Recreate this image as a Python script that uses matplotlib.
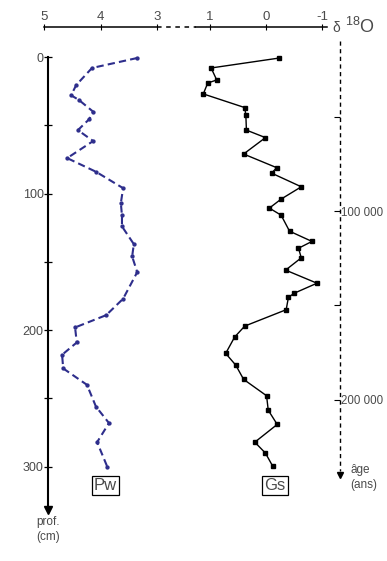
import numpy as np
import matplotlib.pyplot as plt
import matplotlib.transforms as mtransforms

plt.rcParams['font.family'] = ['Liberation Sans', 'DejaVu Sans']
plt.rcParams['mathtext.default'] = 'regular'

# Pw : delta 18O (dashed blue), depth in cm
pw_depth = [0.7, 8, 20.5, 28, 31.5, 40, 45.5, 53.5, 61.5, 74, 84, 96, 107, 116, 124,
            137, 146, 157.5, 177, 189, 198, 209, 218, 228, 240, 256, 268, 282, 300]
pw_d18o = [3.35, 4.15, 4.43, 4.52, 4.38, 4.13, 4.2, 4.4, 4.13, 4.59, 4.08, 3.6, 3.64, 3.62, 3.62,
           3.41, 3.44, 3.35, 3.6, 3.9, 4.45, 4.42, 4.68, 4.66, 4.24, 4.08, 3.85, 4.06, 3.88]

# Gs : delta 18O (solid black)
gs_depth = [0.7, 8, 16.8, 19, 27, 37, 42.5, 53.5, 59, 71, 81, 85, 95, 104, 110.6, 115.8,
            127.5, 135, 140, 147, 156, 165.6, 173, 176, 185, 197, 205, 217, 225.6, 236,
            248, 258.6, 269, 282, 290, 299.6]
gs_d18o = [-0.24, 0.98, 0.88, 1.04, 1.12, 0.38, 0.36, 0.35, 0.01, 0.40, -0.19, -0.10, -0.63,
           -0.27, -0.06, -0.27, -0.42, -0.82, -0.58, -0.63, -0.35, -0.91, -0.50, -0.40, -0.36,
           0.38, 0.56, 0.72, 0.54, 0.40, -0.01, -0.04, -0.20, 0.20, 0.01, -0.12]

depth_ticks = [0, 100, 200, 300]
depth_minor = [50, 150, 250]
age_ticks = [50000, 100000, 150000, 200000]
age_labels = ['', '100 000', '', '200 000']
pw_ticks = [5, 4, 3]
gs_ticks = [1, 0, -1]

W, H = 387, 561
grey = '#4a4a4a'
blue = '#2e2e8c'


def rect(x0, x1, y0, y1):
    return [x0 / W, 1 - y1 / H, (x1 - x0) / W, (y1 - y0) / H]


fig = plt.figure(figsize=(W / 100, H / 100), dpi=100)
ax_pw = fig.add_axes(rect(44, 157, 27, 561))
ax_gs = fig.add_axes(rect(196, 326.5, 27, 561))

for ax in (ax_pw, ax_gs):
    ax.set_ylim(369, -22)
    ax.patch.set_alpha(0)
    for s in ('bottom', 'right', 'left'):
        ax.spines[s].set_visible(False)
    ax.spines['top'].set_linewidth(1.1)
    ax.xaxis.set_ticks_position('top')
    ax.tick_params(axis='x', direction='inout', length=5, width=0.8,
                   labelsize=9.5, labelcolor=grey, pad=0.5)

ax_pw.set_xlim(5, 3)
ax_gs.set_xlim(1.25, -1.08)
ax_pw.set_xticks(pw_ticks)
ax_gs.set_xticks(gs_ticks)
ax_gs.set_xticklabels(['1', '0', '-1'])
ax_gs.set_yticks([])

# depth axis
ax_pw.spines['left'].set_visible(True)
ax_pw.spines['left'].set_position(('data', 4.93))
ax_pw.spines['left'].set_bounds(0, 328)
ax_pw.spines['left'].set_linewidth(1.5)
ax_pw.set_yticks(depth_ticks)
ax_pw.set_yticks(depth_minor, minor=True)
ax_pw.tick_params(axis='y', which='both', direction='inout', length=6, width=0.9,
                  labelsize=9, labelcolor=grey, pad=0)
ax_pw.plot([4.93], [332], marker='v', color='black', ms=5.5, clip_on=False)
ax_pw.text(4.93, 346, 'prof.\n(cm)', ha='center', va='center', fontsize=8.5,
           color=grey, linespacing=1.25)

# broken x-axis (dashed gap)
fig.add_artist(plt.Line2D([157 / W, 196 / W], [1 - 27 / H, 1 - 27 / H],
                          color='black', lw=1.1, ls=(0, (3, 3))))
fig.text(332 / W, 1 - 28 / H, 'δ', fontsize=10, va='center', ha='left', color=grey)
fig.text(345 / W, 1 - 27 / H, '$^{18}$O', fontsize=13, va='center', ha='left',
         color=grey)

# series
ax_pw.plot(pw_d18o, pw_depth, color=blue, ls=(0, (3.5, 2)), lw=1.5,
           marker='o', ms=2.1, mfc=blue, mec=blue, clip_on=False)
ax_gs.plot(gs_d18o, gs_depth, color='black', lw=1.0,
           marker='s', ms=2.6, clip_on=False)

box = dict(boxstyle='square,pad=0.12', fc='white', ec='black', lw=0.9)
ax_pw.text(3.91, 313.5, 'Pw', ha='center', va='center', fontsize=12, color=grey,
           bbox=box)
ax_gs.text(-0.16, 314, 'Gs', ha='center', va='center', fontsize=12, color=grey,
           bbox=box)

# age axis
xa = 1.103
trans = mtransforms.blended_transform_factory(ax_gs.transAxes, ax_gs.transData)
ax_gs.plot([xa, xa], [-12, 303], transform=trans, color='black', lw=1.0,
           ls=(0, (3, 2.5)), clip_on=False)
ax_gs.plot([xa], [306], transform=trans, marker='v', color='black', ms=4.5,
           clip_on=False)

sec = ax_gs.secondary_yaxis(xa, functions=(lambda d: (d + 25) * 725,
                                           lambda a: a / 725 - 25))
sec.spines['right'].set_visible(False)
sec.set_yticks(age_ticks)
sec.set_yticklabels(age_labels)
sec.tick_params(direction='in', length=4, width=0.8, labelsize=8.3,
                labelcolor=grey, pad=0.5)
ax_gs.text(xa + 0.08, 308, 'âge\n(ans)', transform=trans, ha='left',
           va='center', fontsize=8.5, color=grey, linespacing=1.3)

fig.savefig('out.png', dpi=100)
